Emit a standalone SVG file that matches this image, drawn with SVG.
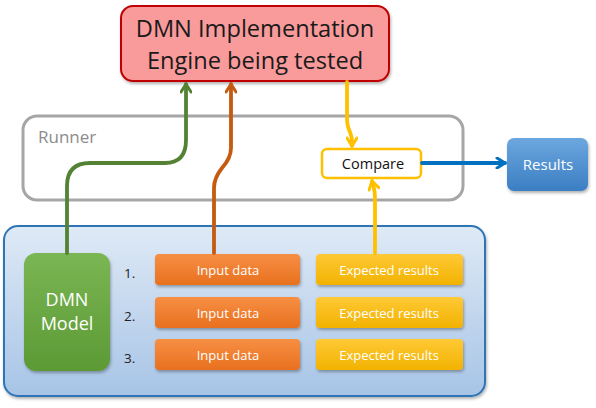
<svg xmlns="http://www.w3.org/2000/svg" width="596" height="408" viewBox="0 0 596 408">
<defs>
<linearGradient id="gBlue" x1="0" y1="0" x2="0" y2="1"><stop offset="0" stop-color="#dfeaf6"/><stop offset="1" stop-color="#a7c4e6"/></linearGradient>
<linearGradient id="gGreen" x1="0" y1="0" x2="0" y2="1"><stop offset="0" stop-color="#7ab653"/><stop offset="1" stop-color="#5c9a35"/></linearGradient>
<linearGradient id="gOrange" x1="0" y1="0" x2="0" y2="1"><stop offset="0" stop-color="#f78f44"/><stop offset="1" stop-color="#e8701f"/></linearGradient>
<linearGradient id="gYellow" x1="0" y1="0" x2="0" y2="1"><stop offset="0" stop-color="#ffc936"/><stop offset="1" stop-color="#f2b200"/></linearGradient>
<linearGradient id="gRes" x1="0" y1="0" x2="0" y2="1"><stop offset="0" stop-color="#6ca7df"/><stop offset="1" stop-color="#3b7ec3"/></linearGradient>
<filter id="sh" x="-10%" y="-10%" width="130%" height="140%"><feDropShadow dx="1" dy="2" stdDeviation="1.5" flood-color="#000" flood-opacity="0.3"/></filter>
<marker id="aG" viewBox="0 0 12 12" refX="10" refY="6" markerWidth="12" markerHeight="12" markerUnits="userSpaceOnUse" orient="auto"><path d="M2,1 L10,6 L2,11" fill="none" stroke="#548235" stroke-width="3" stroke-linecap="round" stroke-linejoin="round"/></marker>
<marker id="aO" viewBox="0 0 12 12" refX="10" refY="6" markerWidth="12" markerHeight="12" markerUnits="userSpaceOnUse" orient="auto"><path d="M2,1 L10,6 L2,11" fill="none" stroke="#c55a11" stroke-width="3" stroke-linecap="round" stroke-linejoin="round"/></marker>
<marker id="aY" viewBox="0 0 12 12" refX="10" refY="6" markerWidth="12" markerHeight="12" markerUnits="userSpaceOnUse" orient="auto"><path d="M2,1 L10,6 L2,11" fill="none" stroke="#ffc000" stroke-width="3" stroke-linecap="round" stroke-linejoin="round"/></marker>
<marker id="aB" viewBox="0 0 12 12" refX="10" refY="6" markerWidth="12" markerHeight="12" markerUnits="userSpaceOnUse" orient="auto"><path d="M2,1 L10,6 L2,11" fill="none" stroke="#0070c0" stroke-width="3" stroke-linecap="round" stroke-linejoin="round"/></marker>
</defs>
<style>
text{font-family:"Open Sans","Liberation Sans",sans-serif}
.w{fill:#fff;text-anchor:middle}
.box13{font-size:13px}
.num{font-size:13.5px;fill:#222}
.conn{fill:none;stroke-width:3.8;stroke-linecap:round}
</style>
<g id="testcases">
<rect x="4" y="226" width="481" height="170" rx="14" fill="url(#gBlue)" stroke="#2e75b6" stroke-width="2" filter="url(#sh)"/>
</g>
<g id="runner">
<rect x="23" y="116" width="440" height="84" rx="14" fill="#fff" stroke="#a6a6a6" stroke-width="3"/>
<text x="38" y="143" font-size="17" fill="#8c8c8c">Runner</text>
</g>
<g id="engine">
<rect x="121" y="6" width="268" height="75" rx="12" fill="#f99b9b" stroke="#c00000" stroke-width="2" filter="url(#sh)"/>
<text x="255" y="37" font-size="23.6" fill="#1a1a1a" text-anchor="middle">DMN Implementation</text>
<text x="255" y="69" font-size="23.6" fill="#1a1a1a" text-anchor="middle">Engine being tested</text>
</g>
<g id="compare">
<rect x="322" y="149" width="99" height="29" rx="5" fill="#fff" stroke="#ffc000" stroke-width="2.5"/>
<text x="373" y="169" font-size="14.5" fill="#111" text-anchor="middle">Compare</text>
</g>
<g id="results">
<rect x="507" y="138" width="81" height="53" rx="7" fill="url(#gRes)" filter="url(#sh)"/>
<text x="548" y="170" font-size="15" class="w">Results</text>
</g>
<g id="dmnmodel">
<rect x="24" y="253" width="86" height="118" rx="12" fill="url(#gGreen)" filter="url(#sh)"/>
<text x="67" y="306" font-size="18" class="w">DMN</text>
<text x="67" y="330" font-size="18" class="w">Model</text>
</g>
<g id="numbers">
<text x="124" y="278" class="num">1.</text>
<text x="124" y="321" class="num">2.</text>
<text x="124" y="363" class="num">3.</text>
</g>
<g id="input1"><rect x="155" y="254" width="145" height="31" rx="4" fill="url(#gOrange)" filter="url(#sh)"/><text x="228" y="275" class="w box13">Input data</text></g>
<g id="input2"><rect x="155" y="297" width="145" height="31" rx="4" fill="url(#gOrange)" filter="url(#sh)"/><text x="228" y="318" class="w box13">Input data</text></g>
<g id="input3"><rect x="155" y="339" width="145" height="31" rx="4" fill="url(#gOrange)" filter="url(#sh)"/><text x="228" y="360" class="w box13">Input data</text></g>
<g id="expected1"><rect x="316" y="254" width="147" height="31" rx="4" fill="url(#gYellow)" filter="url(#sh)"/><text x="389" y="275" class="w box13">Expected results</text></g>
<g id="expected2"><rect x="316" y="297" width="147" height="31" rx="4" fill="url(#gYellow)" filter="url(#sh)"/><text x="389" y="318" class="w box13">Expected results</text></g>
<g id="expected3"><rect x="316" y="339" width="147" height="31" rx="4" fill="url(#gYellow)" filter="url(#sh)"/><text x="389" y="360" class="w box13">Expected results</text></g>
<g id="connectors">
<path class="conn" stroke="#548235" d="M67,253 L67,186 Q67,163 90,163 L165,163 Q186,163 186,140 L186,84" marker-end="url(#aG)"/>
<path class="conn" stroke="#c55a11" d="M214,253 L214,188 Q214,178 222,168 Q231,158 231,148 L231,84" marker-end="url(#aO)"/>
<path class="conn" stroke="#ffc000" d="M347,82 L347,118 Q347,126 350,132 Q352,137 352,142 L352,146" marker-end="url(#aY)"/>
<path class="conn" stroke="#ffc000" d="M375,253 L375,200 Q375,190 373,185 L372,181" marker-end="url(#aY)"/>
<path class="conn" stroke="#0070c0" d="M422,163 L505,163" marker-end="url(#aB)"/>
</g>
</svg>
